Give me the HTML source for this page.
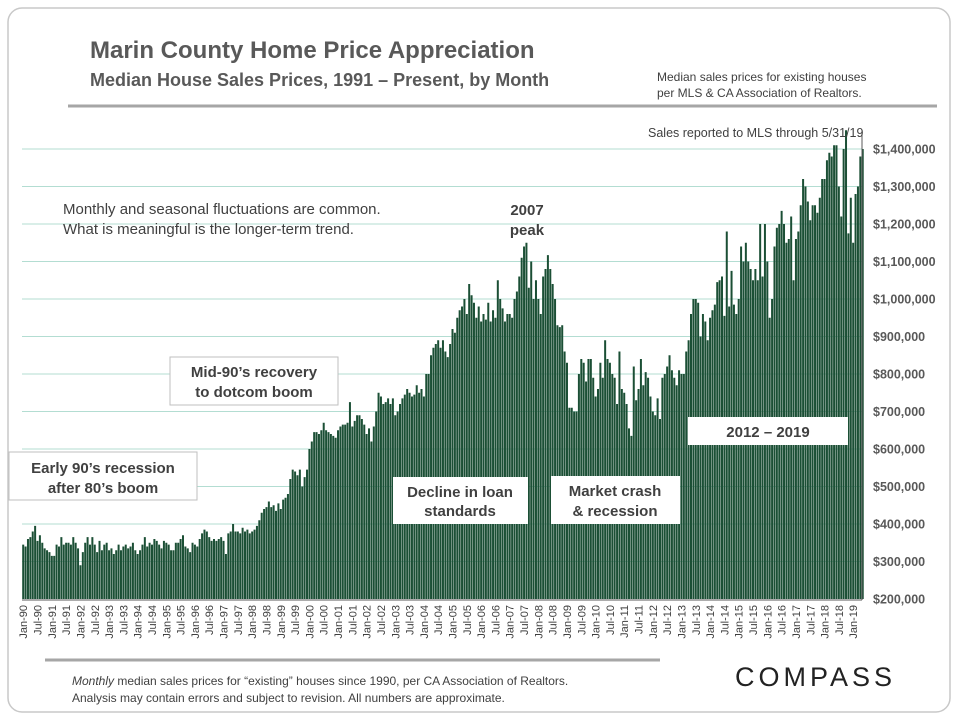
<!DOCTYPE html>
<html><head><meta charset="utf-8"><style>
body{margin:0;background:#fff;font-family:"Liberation Sans",sans-serif}
#wrap{position:relative;width:960px;height:720px;overflow:hidden}
</style></head><body>
<div id="wrap">
<svg id="chart" width="960" height="720" xmlns="http://www.w3.org/2000/svg" font-family="Liberation Sans, sans-serif">
<rect x="8" y="8" width="942" height="704" rx="14" fill="#fff" stroke="#c8c8c8" stroke-width="1.5"/>
<text x="90" y="58" font-size="24" font-weight="bold" fill="#595959">Marin County Home Price Appreciation</text>
<text x="90" y="86" font-size="18" font-weight="bold" fill="#595959">Median House Sales Prices, 1991 – Present, by Month</text>
<text x="657" y="81" font-size="12" fill="#404040">Median sales prices for existing houses</text>
<text x="657" y="97" font-size="12" fill="#404040">per MLS &amp; CA Association of Realtors.</text>
<line x1="68" y1="106" x2="937" y2="106" stroke="#a6a6a6" stroke-width="3"/>
<g id="grid"></g><g id="bars"></g><g id="xlabels"></g><g id="ylabels"></g>
<line x1="862" y1="130" x2="862" y2="600" stroke="#595959" stroke-width="1"/>
<line x1="22" y1="600" x2="862" y2="600" stroke="#595959" stroke-width="1"/>
<text x="648" y="137" font-size="12.5" fill="#404040">Sales reported to MLS through 5/31/19</text>
<text x="63" y="214" font-size="15" fill="#404040">Monthly and seasonal fluctuations are common.</text>
<text x="63" y="234" font-size="15" fill="#404040">What is meaningful is the longer-term trend.</text>
<text x="527" y="215" font-size="15" font-weight="bold" fill="#404040" text-anchor="middle">2007</text>
<text x="527" y="235" font-size="15" font-weight="bold" fill="#404040" text-anchor="middle">peak</text>
<g>
<rect x="9" y="452" width="188" height="48" fill="#fff" stroke="#bfbfbf"/>
<text x="103" y="473" font-size="15" font-weight="bold" fill="#404040" text-anchor="middle">Early 90’s recession</text>
<text x="103" y="493" font-size="15" font-weight="bold" fill="#404040" text-anchor="middle">after 80’s boom</text></g>
<g>
<rect x="170" y="357" width="168" height="48" fill="#fff" stroke="#bfbfbf"/>
<text x="254" y="377" font-size="15" font-weight="bold" fill="#404040" text-anchor="middle">Mid-90’s recovery</text>
<text x="254" y="397" font-size="15" font-weight="bold" fill="#404040" text-anchor="middle">to dotcom boom</text></g>
<g>
<rect x="393" y="477" width="135" height="47" fill="#fff"/>
<text x="460" y="497" font-size="15" font-weight="bold" fill="#404040" text-anchor="middle">Decline in loan</text>
<text x="460" y="516" font-size="15" font-weight="bold" fill="#404040" text-anchor="middle">standards</text></g>
<g>
<rect x="551" y="476" width="129" height="48" fill="#fff"/>
<text x="615" y="496" font-size="15" font-weight="bold" fill="#404040" text-anchor="middle">Market crash</text>
<text x="615" y="516" font-size="15" font-weight="bold" fill="#404040" text-anchor="middle">&amp; recession</text></g>
<g>
<rect x="688" y="417" width="160" height="28" fill="#fff"/>
<text x="768" y="437" font-size="15" font-weight="bold" fill="#404040" text-anchor="middle">2012 – 2019</text></g>
<line x1="45" y1="660" x2="660" y2="660" stroke="#a6a6a6" stroke-width="3"/>
<text x="72" y="685" font-size="12" fill="#404040"><tspan font-style="italic">Monthly</tspan> median sales prices for “existing” houses since 1990, per CA Association of Realtors.</text>
<text x="72" y="702" font-size="12" fill="#404040">Analysis may contain errors and subject to revision. All numbers are approximate.</text>
<text x="735" y="686" font-size="27" fill="#222" letter-spacing="4">COMPASS</text>
</svg></div>
<script>
const years=[1990,1991,1992,1993,1994,1995,1996,1997,1998,1999,2000,2001,2002,2003,2004,2005,2006,2007,2008,2009,2010,2011,2012,2013,2014,2015,2016,2017,2018,2019];
const pricesK=[
[345,340,360,365,380,395,355,370,350,335,330,325],
[315,315,345,340,365,345,350,350,345,365,350,335],
[290,325,350,365,345,365,345,325,355,330,345,350],
[330,335,320,330,345,330,340,345,335,340,350,330],
[320,330,345,365,340,350,345,360,355,345,335,355],
[350,345,330,330,350,350,360,370,340,335,325,350],
[345,340,360,375,385,380,365,355,360,355,360,365],
[355,320,375,380,400,380,380,375,390,380,385,375],
[380,385,395,410,430,440,445,460,445,450,435,455],
[440,465,470,480,520,545,540,530,545,500,525,545],
[600,620,645,645,640,650,670,650,645,640,635,630],
[650,660,665,665,670,725,660,675,690,690,680,665],
[640,655,620,660,700,750,740,720,725,735,720,735],
[690,700,720,735,745,760,750,740,745,770,750,760],
[740,800,800,850,870,880,890,870,890,860,845,880],
[920,910,950,970,980,1000,960,1040,1010,990,950,980],
[940,960,945,990,940,970,950,1050,1000,975,940,960],
[960,950,1000,1020,1060,1110,1140,1150,1030,1100,1000,1050],
[1000,960,1060,1080,1117,1080,1040,1000,930,925,930,860],
[830,710,710,700,700,800,840,830,780,840,840,790],
[740,760,830,790,890,840,830,800,790,720,860,760],
[750,720,655,635,820,730,760,840,770,805,790,740],
[700,690,735,680,790,800,820,850,810,790,770,810],
[800,800,860,890,960,1000,1000,990,900,960,940,890],
[950,970,985,1045,1050,1060,955,1180,980,1075,985,960],
[1000,1140,1100,1150,1100,1080,1050,1080,1050,1200,1060,1200],
[1100,950,1000,1140,1190,1200,1235,1200,1150,1160,1220,1050],
[1160,1180,1250,1320,1300,1260,1210,1250,1250,1230,1270,1320],
[1320,1370,1390,1380,1410,1410,1300,1220,1400,1450,1175,1270],
[1150,1280,1300,1380,1400]];
const yTicksK=[200,300,400,500,600,700,800,900,1000,1100,1200,1300,1400];
const monthNames=["Jan","Jul"];
const NS="http://www.w3.org/2000/svg";
const step=2.385, x0=22.2;
function xPos(i){return x0+i*step;}
function yPos(v){return 599-(v-200)*0.375;}
const grid=document.getElementById('grid'),bars=document.getElementById('bars'),xl=document.getElementById('xlabels'),yl=document.getElementById('ylabels');
yTicksK.forEach(t=>{
 if(t>200){const l=document.createElementNS(NS,'line');
 l.setAttribute('x1',22);l.setAttribute('x2',862);l.setAttribute('y1',yPos(t));l.setAttribute('y2',yPos(t));
 l.setAttribute('stroke','#b3ddd2');l.setAttribute('stroke-width','1');
 
 
 grid.appendChild(l);}
 const tx=document.createElementNS(NS,'text');
 tx.setAttribute('x',873);tx.setAttribute('y',yPos(t)+4.5);tx.setAttribute('font-size','12.5');tx.setAttribute('fill','#595959');tx.setAttribute('font-weight','bold');
 tx.textContent='$'+(t*1000).toLocaleString('en-US');
 
 
 yl.appendChild(tx);
});
let i=0;
pricesK.forEach((row,yi)=>{
 row.forEach((v,m)=>{
  const r=document.createElementNS(NS,'rect');
  r.setAttribute('x',xPos(i));r.setAttribute('width',2.0);
  r.setAttribute('y',yPos(v));r.setAttribute('height',599-yPos(v));
  r.setAttribute('fill','#1b4f35');
  
  
  bars.appendChild(r);
  if(m===0||m===6){
   const cx=xPos(i)+1;
   const tx=document.createElementNS(NS,'text');
   tx.setAttribute('transform','translate('+(cx+4)+',605) rotate(-90)');
   tx.setAttribute('text-anchor','end');tx.setAttribute('font-size','11');tx.setAttribute('fill','#404040');
   tx.textContent=monthNames[m===0?0:1]+'-'+String(years[yi]%100).padStart(2,'0');
   
   
   xl.appendChild(tx);
  }
  i++;
 });
});
</script>
</body></html>
